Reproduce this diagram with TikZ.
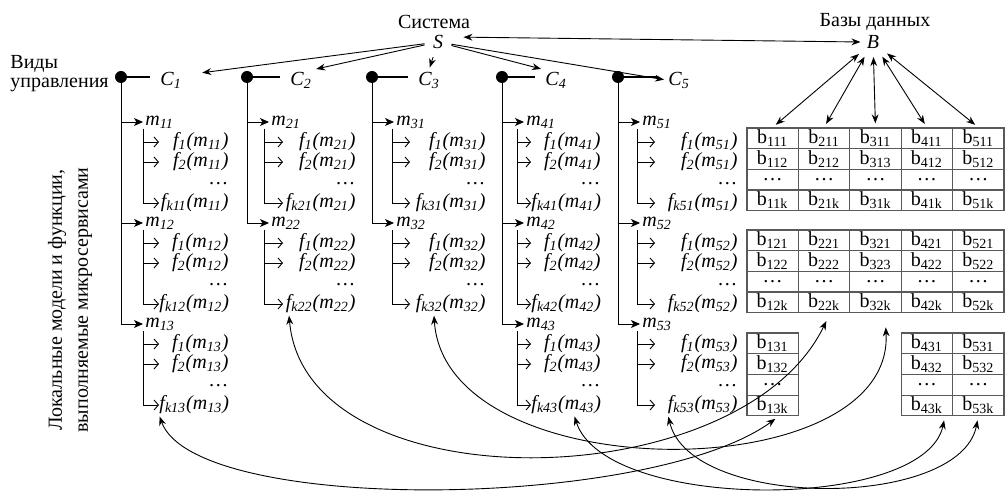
\documentclass[tikz,border=0pt]{standalone}
\usepackage{fontspec}
\setmainfont{Liberation Serif}
\usetikzlibrary{arrows.meta}

\newcommand{\msub}[1]{m\textsubscript{#1}}

\begin{document}
\begin{tikzpicture}[
    x=0.5pt, y=-0.5pt,
    line width=0.45pt,
    >={Stealth[length=4.5pt,width=3.4pt]},
    bullet/.style={
      fill=black,
      circle,
      inner sep=0pt,
      minimum size=6pt
    },
    letter/.style={inner sep=1pt, font=\itshape},
    model/.style={anchor=west, inner sep=1pt, font=\itshape},
    func/.style={anchor=west, inner sep=0pt, font=\itshape, align=right},
    control/.style={->, shorten >=1pt},
    branch/.style={-{Stealth[length=4.5pt,width=4pt,inset=1.2pt]}},
    subbranch/.style={-{Straight Barb[length=2.2pt,width=5pt]}},
    cell/.style={
      draw=black!65,
      line width=0.6pt,
      minimum width=25.7pt,
      minimum height=10.35pt,
      inner sep=0pt
    },
    link/.style={
      <->,
      shorten <=1pt,
      shorten >=2pt
    },
  ]

  \useasboundingbox (0,0) rectangle (1005,491);

  % headings
  \node (sys) at (434,22) {Система};
  \node [letter, inner sep=4pt] (S) at (438,42) {S};
  \node (dbs) at (875,22) {Базы данных};
  \node [letter, inner sep=3pt] (B) at (873,42) {B};
  \node [anchor=west, align=left, inner sep=0pt, font=\fontsize{10}{9.5}\selectfont] (kinds) at (10,74) {Виды\\управления};
  \node [rotate=90, align=center, font=\fontsize{10}{13}\selectfont] (local) at (70,300) {Локальные модели и функции,\\выполняемые микросервисами};

  % control kinds, models and functions
  \foreach \col/\xo/\xr/\nm/\xc/\so/\xa in {1/121/228/3/158/22/159, 2/247/355/2/288/17/283, 3/372/485/2/416/20/410, 4/502/600/3/543/15/531, 5/618/737/3/666/19/655} {
    \node [bullet] (d\col) at (\xo,77) {};
    \node [letter, anchor=west] (C\col) at (\xc,80) {C\textsubscript{\col}};
    \draw [line width=1pt, shorten >=4pt] (d\col.center) -- (d\col -| C\col.west);
    \pgfmathsetmacro{\fw}{(\xr-\xa)*0.5}
    \foreach \j in {1,...,\nm} {
      \pgfmathsetmacro{\ym}{122+(\j-1)*101}
      \node [model] (m\col\j) at (\xo+22,\ym) {\msub{\col\j}};
      \draw [branch] (d\col |- m\col\j.west) -- (m\col\j.west);
      \coordinate (s\col\j) at (\xo+\so,\ym+7);
      \node [func, text width=\fw pt] (f\col\j-1) at (\xa,\ym+20) {f\textsubscript{1}(\msub{\col\j})};
      \node [func, text width=\fw pt] (f\col\j-2) at (\xa,\ym+40) {f\textsubscript{2}(\msub{\col\j})};
      \node [func, text width=\fw pt, font=\upshape] (f\col\j-d) at (\xa,\ym+62) {\dots};
      \node [func, text width=\fw pt] (f\col\j-k) at (\xa,\ym+81) {f\textsubscript{k\col\j}(\msub{\col\j})};
      \draw (s\col\j) -- (s\col\j |- f\col\j-k.west);
      \draw [subbranch] (s\col\j |- f\col\j-1.west) -- (f\col\j-1.west);
      \draw [subbranch] (s\col\j |- f\col\j-2.west) -- (f\col\j-2.west);
      \draw [subbranch] (s\col\j |- f\col\j-k.west) -- (f\col\j-k.west);
    }
    \draw (d\col.center) -- (d\col |- m\col\nm.west);
  }

  % system arrows
  \draw [control] (S) -- ([xshift=8pt,yshift=3.5pt]C1.east);
  \draw [control] (S) -- (C2.north east);
  \draw [control] (S) -- (C3.north);
  \draw [control] (S) -- (C4.north west);
  \draw [control] (S) -- (C5.west);
  \draw [<->, shorten <=6pt] ([yshift=2.5pt]S.east) -- (B.west);

  % data tables
  \foreach \tb/\ytop in {1/128, 2/230} {
    \foreach \i/\last in {1/2, 2/2, 3/3, 4/2, 5/2} {
      \pgfmathsetmacro{\cx}{772.7+(\i-1)*51.4}
      \node [cell] (t\tb-\i-1) at (\cx,\ytop+10.35) {b\textsubscript{\i\tb1}};
      \node [cell] (t\tb-\i-2) at (\cx,\ytop+31.05) {b\textsubscript{\i\tb\last}};
      \node [cell] (t\tb-\i-d) at (\cx,\ytop+51.75) {\dots};
      \node [cell] (t\tb-\i-k) at (\cx,\ytop+72.45) {b\textsubscript{\i\tb k}};
    }
  }
  \foreach \i in {1,4,5} {
    \pgfmathsetmacro{\cx}{772.7+(\i-1)*51.4}
    \node [cell] (t3-\i-1) at (\cx,343.35) {b\textsubscript{\i31}};
    \node [cell] (t3-\i-2) at (\cx,364.05) {b\textsubscript{\i32}};
    \node [cell] (t3-\i-d) at (\cx,384.75) {\dots};
    \node [cell] (t3-\i-k) at (\cx,405.45) {b\textsubscript{\i3k}};
  }

  \foreach \i in {1,...,5}
    \draw [link] (B) -- (t1-\i-1.north);

  % functions <-> data
  \draw [link] ([xshift=-35pt]f13-k.south east) .. controls (195,515) and (650,510) .. ([xshift=3pt]t3-1-k.south);
  \draw [link] ([xshift=-33.5pt]f22-k.south east) .. controls (305,505) and (740,500) .. ([xshift=2pt,yshift=-2pt]t2-2-k.south);
  \draw [link] ([xshift=-26pt]f32-k.south east) .. controls (445,490) and (895,490) .. ([xshift=5pt,yshift=-5pt]t2-3-k.south);
  \draw [link] ([xshift=-13.5pt]f43-k.south east) .. controls (605,512) and (925,512) .. ([xshift=9pt]t3-4-k.south);
  \draw [link] ([xshift=-35pt]f53-k.south east) .. controls (690,510) and (960,510) .. (t3-5-k.south);
\end{tikzpicture}
\end{document}
